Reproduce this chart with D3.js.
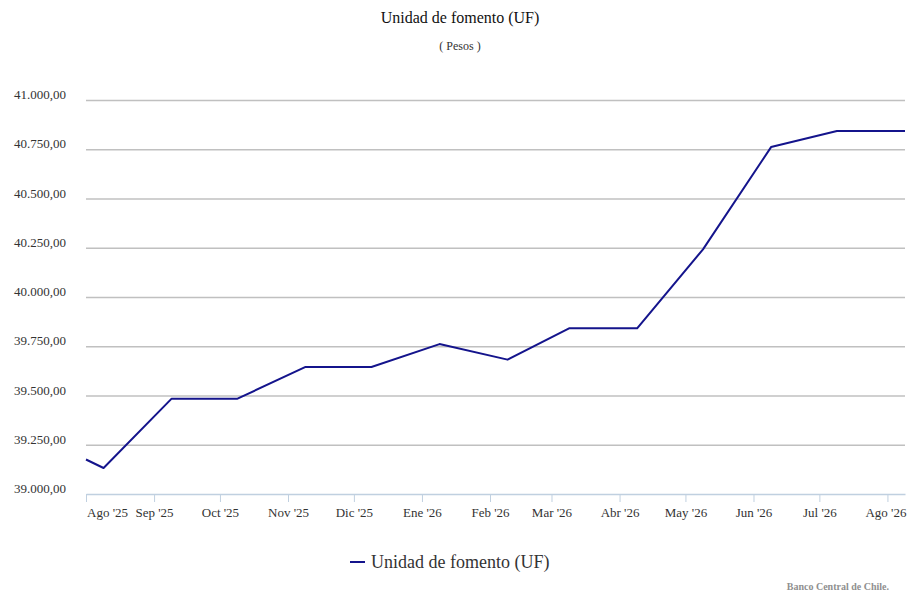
<!DOCTYPE html>
<html>
<head>
  <meta charset="UTF-8">
  <style>
    body { margin: 0; background: #fff; }
    svg text { font-family: "Liberation Serif", "Times New Roman", Times, "DejaVu Serif", serif !important; }
    .grid line { stroke: #c0c0c0; stroke-width: 1.5px; }
    .grid .domain { display: none; }
    .xaxis .domain { stroke: #c0d0e0; stroke-width: 1.5px; }
    .xaxis line { stroke: #c0d0e0; }
  </style>
</head>
<body>
<svg></svg>
<script src="https://d3js.org/d3.v7.min.js"></script>
<script>

let width = 920, height = 600;

// UF values (monthly steps on the 9th)
const dates = ["2025-08-01", "2025-08-09", "2025-09-09", "2025-10-09", "2025-11-09", "2025-12-09",
               "2026-01-09", "2026-02-09", "2026-03-09", "2026-04-09", "2026-05-09", "2026-06-09",
               "2026-07-09", "2026-08-09"];
const ufValues = [39175, 39132, 39484, 39484, 39645, 39645,
                  39761, 39682, 39841, 39841, 40242, 40761,
                  40843, 40843];
const yTicks = [39000, 39250, 39500, 39750, 40000, 40250, 40500, 40750, 41000];
const monthNames = ["Ene", "Feb", "Mar", "Abr", "May", "Jun", "Jul", "Ago", "Sep", "Oct", "Nov", "Dic"];

const parse = d3.timeParse("%Y-%m-%d");
let data = dates.map((d, i) => ({date: parse(d), value: ufValues[i]}));

let margin = {left: 86, right: 15, top: 100, bottom: 106};

let svg = d3.select("svg")
    .attr("width", width)
    .attr("height", height);

let x = d3.scaleTime()
    .domain([parse("2025-08-01"), parse("2026-08-09")])
    .range([margin.left, width - margin.right]);

let y = d3.scaleLinear()
    .domain([39000, 41000])
    .range([height - margin.bottom, margin.top]);

// es-CL number format
const fmt = v => d3.format(",.2f")(v).replace(/,/g, "#").replace(".", ",").replace(/#/g, ".");

// gridlines
let grid = svg.append("g")
    .attr("class", "grid")
    .attr("transform", `translate(${margin.left},0)`)
    .call(d3.axisLeft(y).tickValues(yTicks.slice(1)).tickSize(-(width - margin.left - margin.right)).tickFormat(""));

// y labels
svg.append("g")
  .selectAll("text")
  .data(yTicks)
  .enter()
  .append("text")
    .attr("x", 66)
    .attr("y", d => y(d) - 1)
    .attr("text-anchor", "end")
    .attr("font-size", 13)
    .attr("fill", "#333")
    .text(d => fmt(d));

// x axis
let months = d3.timeMonth.range(parse("2025-08-01"), parse("2026-08-02"));
let xAxis = svg.append("g")
    .attr("class", "xaxis")
    .attr("transform", `translate(0,${y(39000)})`)
    .call(d3.axisBottom(x).tickValues(months).tickSize(8).tickSizeOuter(0)
        .tickFormat(d => monthNames[d.getMonth()] + " '" + d3.timeFormat("%y")(d)));

xAxis.selectAll("text")
    .attr("font-size", 13)
    .attr("fill", "#333")
    .attr("dy", "0.95em");

// keep the first and last labels inside the plot
xAxis.selectAll(".tick text")
    .attr("dx", (d, i) => i == 0 ? 21 : (i == months.length - 1 ? -2 : 0));

// line
let line = d3.line()
    .x(d => x(d.date))
    .y(d => y(d.value));

svg.append("path")
    .datum(data)
    .attr("fill", "none")
    .attr("stroke", "#14148c")
    .attr("stroke-width", 2)
    .attr("stroke-linejoin", "round")
    .attr("d", line);

// titles
svg.append("text")
    .attr("x", 460)
    .attr("y", 23)
    .attr("text-anchor", "middle")
    .attr("font-size", 16)
    .attr("fill", "#111")
    .text("Unidad de fomento (UF)");

svg.append("text")
    .attr("x", 460)
    .attr("y", 50)
    .attr("text-anchor", "middle")
    .attr("font-size", 12)
    .attr("fill", "#333")
    .text("( Pesos )");

// legend
svg.append("line")
    .attr("x1", 350).attr("x2", 365)
    .attr("y1", 562).attr("y2", 562)
    .attr("stroke", "#14148c")
    .attr("stroke-width", 2);

svg.append("text")
    .attr("x", 371)
    .attr("y", 568)
    .attr("font-size", 18)
    .attr("fill", "#333")
    .text("Unidad de fomento (UF)");

// credits
svg.append("text")
    .attr("x", 889)
    .attr("y", 590)
    .attr("text-anchor", "end")
    .attr("font-size", 10)
    .attr("font-weight", "bold")
    .attr("fill", "#909090")
    .text("Banco Central de Chile.");

</script>
</body>
</html>
